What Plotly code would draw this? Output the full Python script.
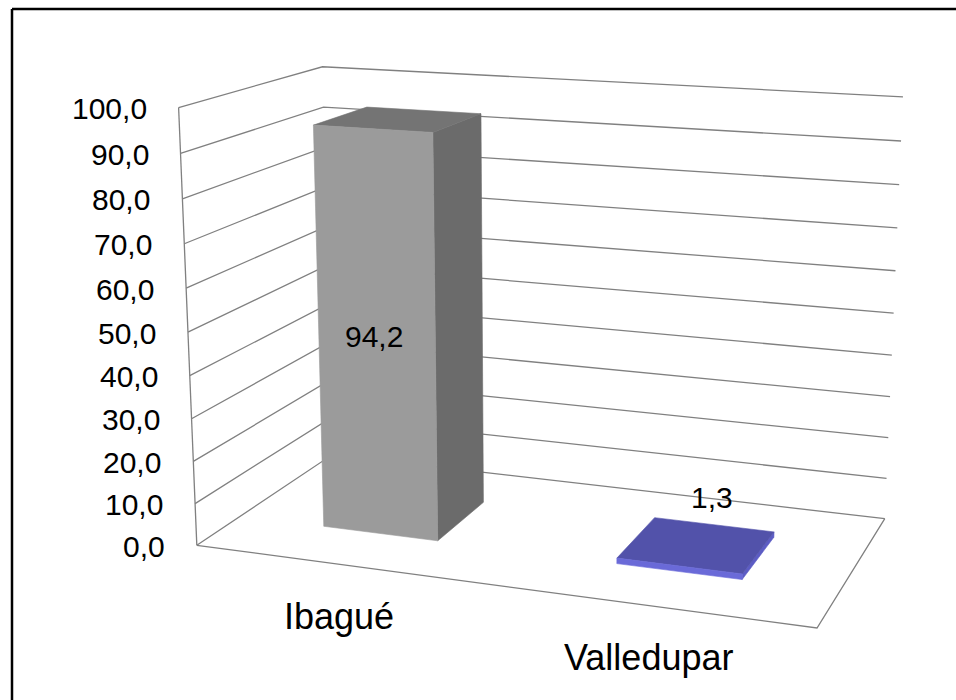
import numpy as np
import plotly.graph_objects as go

# ---- data -------------------------------------------------------------
categories = ["Ibagué", "Valledupar"]
values = [94.2, 1.3]
value_ticks = [0, 10, 20, 30, 40, 50, 60, 70, 80, 90, 100]
tick_labels = ["0,0", "10,0", "20,0", "30,0", "40,0", "50,0",
               "60,0", "70,0", "80,0", "90,0", "100,0"]

# ---- styling ----------------------------------------------------------
W, H = 956, 700
GRID = "#808080"
FONT = "Liberation Sans, Arial, sans-serif"
BAR_COLORS = [
    {"front": "#9b9b9b", "side": "#6b6b6b", "top": "#747474"},
    {"front": "#6a6ad8", "side": "#5c5cc4", "top": "#5252aa"},
]
BAR_HALF_WIDTH = 0.10      # in units of the floor width (each category spans 0.5)
BAR_DEPTH = (0.30, 0.70)   # front / back of the bars along the floor depth
Z_MAX = 100.0

# ---- perspective camera of the 3-D plot box ----------------------------
# Box corners / wall tick points (X across, Y depth, Z value) and where they
# sit on the page; a pinhole projection is fitted to them.
box_world = np.array([
    [0, 0, 100], [0, 0, 90], [0, 0, 50], [0, 0, 10], [0, 0, 0],
    [0, 1, 100], [0, 1, 90],
    [1, 1, 100], [1, 1, 90], [1, 1, 50], [1, 1, 10], [1, 1, 0],
    [1, 0, 0],
], dtype=float)
box_page = np.array([
    [178, 108], [181, 153], [188, 332], [195, 503], [197, 546],
    [323, 67], [323, 107],
    [903, 97], [901, 141], [894, 313], [886, 478], [885, 519],
    [817, 628],
], dtype=float)

_C, _S = np.array([W / 2, H / 2]), W / 2


def fit_camera(world, page):
    rows = []
    for (X, Y, Z), (u, v) in zip(world, (page - _C) / _S):
        p = [X, Y, Z / Z_MAX, 1.0]
        rows.append(p + [0, 0, 0, 0] + [-u * c for c in p])
        rows.append([0, 0, 0, 0] + p + [-v * c for c in p])
    _, _, vt = np.linalg.svd(np.array(rows))
    return vt[-1].reshape(3, 4)


CAM = fit_camera(box_world, box_page)


def proj(X, Y, Z):
    h = CAM @ np.array([X, Y, Z / Z_MAX, 1.0])
    return h[:2] / h[2] * _S + _C


def poly(points):
    pts = [proj(*p) for p in points]
    pts.append(pts[0])
    return [p[0] for p in pts], [p[1] for p in pts]


fig = go.Figure()


def add_line(points, color=GRID, width=1.3):
    xs, ys = zip(*[proj(*p) for p in points])
    fig.add_trace(go.Scatter(x=xs, y=ys, mode="lines",
                             line=dict(color=color, width=width),
                             hoverinfo="skip", showlegend=False))


def add_face(points, color):
    xs, ys = poly(points)
    fig.add_trace(go.Scatter(x=xs, y=ys, mode="lines", fill="toself",
                             fillcolor=color, line=dict(color=color, width=0.6),
                             hoverinfo="skip", showlegend=False))


# walls: gridlines run along the left wall and across the back wall
for z in value_ticks:
    add_line([(0, 0, z), (0, 1, z), (1, 1, z)])
# front edge of the left wall and outline of the floor
add_line([(0, 0, 0), (0, 0, Z_MAX)])
add_line([(0, 0, 0), (1, 0, 0), (1, 1, 0)])

# 3-D columns
n = len(categories)
y0, y1 = BAR_DEPTH
for i, (cat, v) in enumerate(zip(categories, values)):
    xc = (i + 0.5) / n
    x0, x1 = xc - BAR_HALF_WIDTH, xc + BAR_HALF_WIDTH
    col = BAR_COLORS[i]
    add_face([(x1, y0, 0), (x1, y1, 0), (x1, y1, v), (x1, y0, v)], col["side"])
    add_face([(x0, y0, v), (x1, y0, v), (x1, y1, v), (x0, y1, v)], col["top"])
    add_face([(x0, y0, 0), (x1, y0, 0), (x1, y0, v), (x0, y0, v)], col["front"])

annotations = []
# value-axis labels along the front edge of the left wall
for z, lab in zip(value_ticks, tick_labels):
    px, py = proj(0, 0, z)
    annotations.append(dict(x=px, y=py, text=lab, showarrow=False,
                            xanchor="right", yanchor="middle", xshift=-30,
                            yshift=-1, font=dict(size=30, color="black", family=FONT)))

# category labels below the front edge of the floor
for i, cat in enumerate(categories):
    px, py = proj((i + 0.5) / n, 0, 0)
    annotations.append(dict(x=px, y=py, text=cat, showarrow=False,
                            xanchor="center", yanchor="middle", xshift=-2,
                            yshift=-52, font=dict(size=36, color="black", family=FONT)))

# data labels: inside tall columns, above flat ones
for i, v in enumerate(values):
    xc = (i + 0.5) / n
    text = f"{v:.1f}".replace(".", ",")
    if v > 10:
        px, py = proj(xc, y0, v / 2)
        shift = 0
    else:
        px, py = proj(xc, y1, v)
        shift = 27
    annotations.append(dict(x=px, y=py, text=text, showarrow=False,
                            xanchor="center", yanchor="middle", yshift=shift,
                            xshift=-2, font=dict(size=30, color="black", family=FONT)))

# chart-area border (left and top edges fall inside the page)
shapes = [
    dict(type="line", xref="x", yref="y", x0=12, y0=9, x1=12, y1=H,
         line=dict(color="black", width=2.5)),
    dict(type="line", xref="x", yref="y", x0=12, y0=9, x1=W, y1=9,
         line=dict(color="black", width=2.5)),
]

fig.update_layout(
    width=W, height=H,
    margin=dict(l=0, r=0, t=0, b=0),
    paper_bgcolor="white", plot_bgcolor="white",
    xaxis=dict(range=[0, W], visible=False, fixedrange=True),
    yaxis=dict(range=[H, 0], visible=False, fixedrange=True),
    annotations=annotations, shapes=shapes,
    showlegend=False,
)

fig.write_html("out.html")
